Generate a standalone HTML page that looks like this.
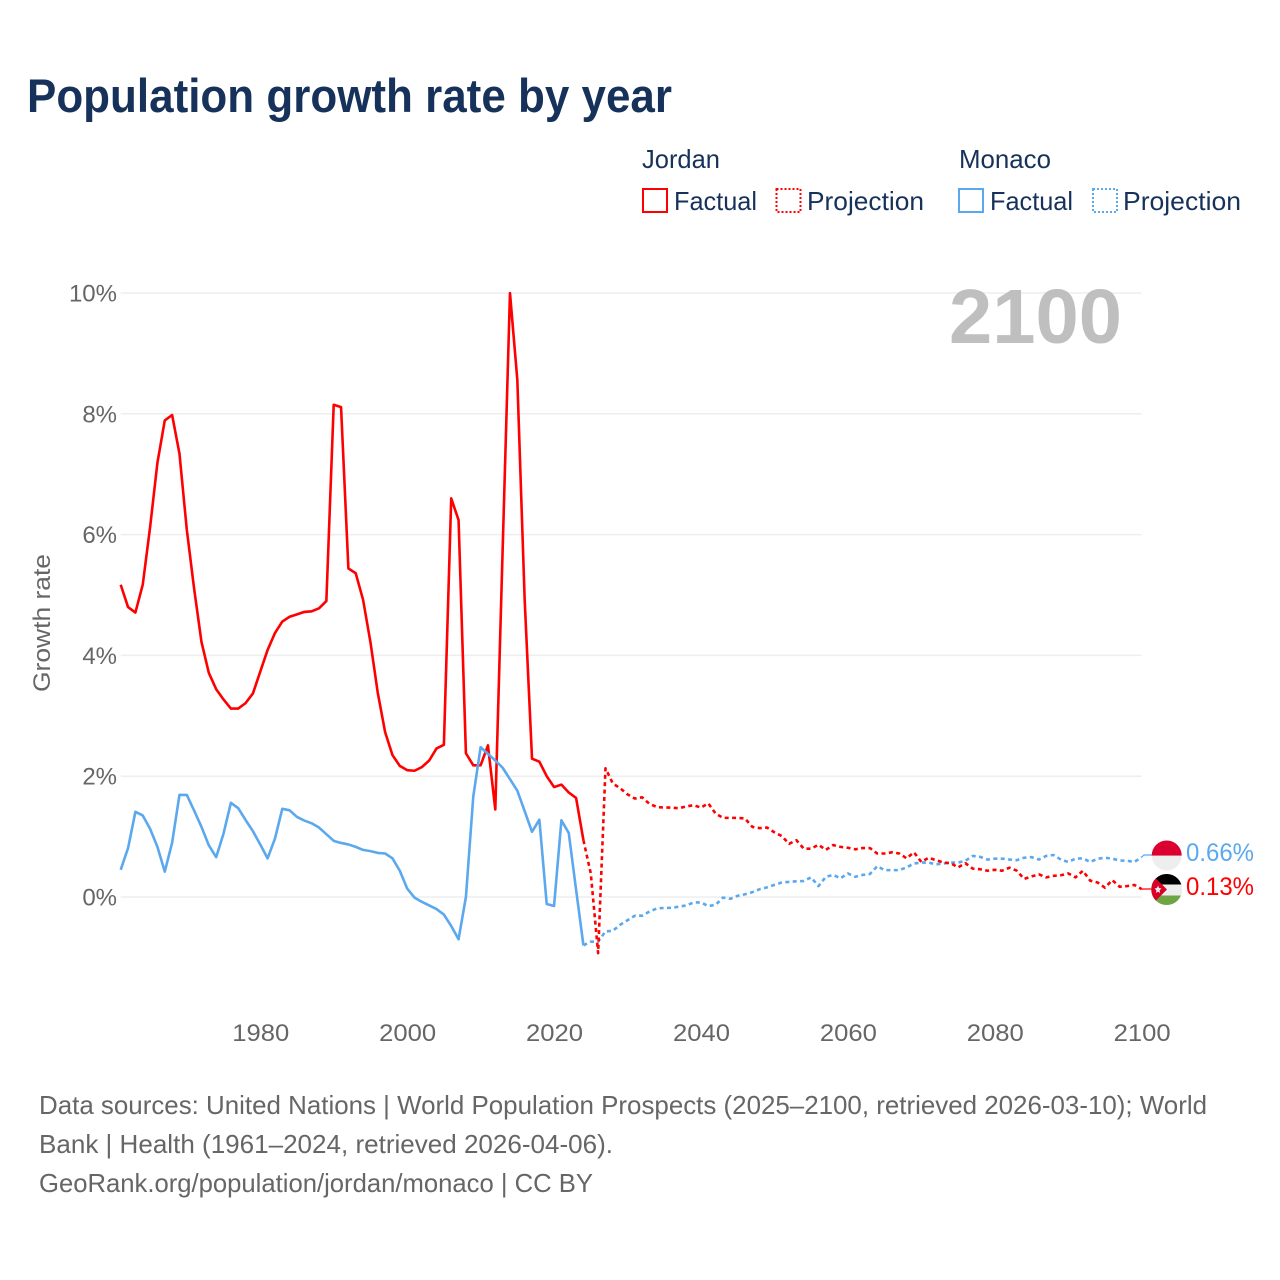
<!DOCTYPE html>
<html lang="en">
<head>
<meta charset="utf-8">
<title>Population growth rate by year</title>
<style>
html,body{margin:0;padding:0;background:#fff;}
svg{display:block;}
text{font-family:"Liberation Sans","DejaVu Sans",sans-serif;}
</style>
</head>
<body>
<svg id="chart" xmlns="http://www.w3.org/2000/svg" width="1280" height="1280" viewBox="0 0 1280 1280">
<rect width="1280" height="1280" fill="#ffffff"/>
<text x="27" y="112" font-size="47" font-weight="700" fill="#17325a" textLength="645" lengthAdjust="spacingAndGlyphs">Population growth rate by year</text>

<g font-size="26" fill="#17325a">
<text x="642" y="168" textLength="78" lengthAdjust="spacingAndGlyphs">Jordan</text>
<text x="959" y="168" textLength="92" lengthAdjust="spacingAndGlyphs">Monaco</text>
<rect x="643" y="189" width="24" height="23" fill="none" stroke="#ff0000" stroke-width="2"/>
<text x="674" y="210" textLength="83" lengthAdjust="spacingAndGlyphs">Factual</text>
<rect x="776.5" y="189" width="24" height="23" fill="none" stroke="#ff0000" stroke-width="2" stroke-dasharray="2 2"/>
<text x="807" y="210" textLength="117" lengthAdjust="spacingAndGlyphs">Projection</text>
<rect x="959" y="189" width="24" height="23" fill="none" stroke="#5ba8ee" stroke-width="2"/>
<text x="990" y="210" textLength="83" lengthAdjust="spacingAndGlyphs">Factual</text>
<rect x="1093" y="189" width="24" height="23" fill="none" stroke="#5ba8ee" stroke-width="2" stroke-dasharray="2 2"/>
<text x="1123" y="210" textLength="118" lengthAdjust="spacingAndGlyphs">Projection</text>
</g>

<g id="grid"></g>
<g id="yticks"></g>
<g id="xticks"></g>
<text transform="translate(50,692) rotate(-90)" font-size="24" fill="#666666" textLength="138" lengthAdjust="spacingAndGlyphs">Growth rate</text>
<text x="949" y="343" font-size="77" font-weight="700" fill="#bfbfbf" textLength="173" lengthAdjust="spacingAndGlyphs">2100</text>
<g id="series"></g>

<defs>
<clipPath id="flag-clip-monaco"><circle cx="1166.7" cy="855.5" r="15"/></clipPath>
<clipPath id="flag-clip-jordan"><circle cx="1166.7" cy="889.5" r="15.5"/></clipPath>
</defs>
<g id="flag-monaco" clip-path="url(#flag-clip-monaco)">
<rect x="1150" y="840" width="34" height="15.7" fill="#dc0030"/>
<rect x="1150" y="855.7" width="34" height="15" fill="#eeeeee"/>
</g>
<g id="flag-jordan" clip-path="url(#flag-clip-jordan)">
<rect x="1150" y="873" width="34" height="11.5" fill="#000000"/>
<rect x="1150" y="884.5" width="34" height="11" fill="#eeeeee"/>
<rect x="1150" y="895.5" width="34" height="10" fill="#6da544"/>
<polygon points="1151,873.5 1167,889.5 1151,905.5" fill="#d80027"/>
<polygon points="1158,885.5 1159,888 1161.5,888.5 1159.6,890.3 1160,893 1158,891.6 1156,893 1156.4,890.3 1154.5,888.5 1157,888" fill="#eeeeee"/>
</g>
<g id="end-labels"></g>

<g font-size="26" fill="#666666">
<text x="39" y="1114" textLength="1168" lengthAdjust="spacingAndGlyphs">Data sources: United Nations | World Population Prospects (2025–2100, retrieved 2026-03-10); World</text>
<text x="39" y="1153" textLength="574" lengthAdjust="spacingAndGlyphs">Bank | Health (1961–2024, retrieved 2026-04-06).</text>
<text x="39" y="1192" textLength="554" lengthAdjust="spacingAndGlyphs">GeoRank.org/population/jordan/monaco | CC BY</text>
</g>
</svg>
<script>
const yTicks = [0, 2, 4, 6, 8, 10];
const xTicks = [1980, 2000, 2020, 2040, 2060, 2080, 2100];
const factualStartYear = 1961;
const projectionStartYear = 2024;
const jordanFactual = [5.17,4.80,4.71,5.17,6.12,7.19,7.89,7.98,7.34,6.08,5.10,4.22,3.71,3.44,3.27,3.12,3.12,3.21,3.37,3.73,4.09,4.37,4.56,4.64,4.68,4.72,4.73,4.78,4.90,8.15,8.11,5.44,5.36,4.92,4.22,3.38,2.73,2.35,2.17,2.10,2.09,2.15,2.26,2.46,2.52,6.60,6.24,2.38,2.18,2.18,2.51,1.45,5.75,10.0,8.56,4.92,2.29,2.24,2.00,1.82,1.86,1.73,1.64,0.94];
const jordanProjection = [0.94,0.39,-0.93,2.13,1.88,1.80,1.70,1.63,1.65,1.54,1.49,1.48,1.48,1.47,1.50,1.52,1.48,1.55,1.38,1.31,1.31,1.31,1.30,1.16,1.14,1.15,1.07,1.01,0.88,0.94,0.80,0.80,0.865,0.78,0.86,0.83,0.815,0.79,0.81,0.81,0.72,0.72,0.74,0.72,0.64,0.74,0.58,0.65,0.61,0.57,0.56,0.49,0.56,0.47,0.46,0.435,0.45,0.435,0.485,0.435,0.30,0.34,0.375,0.325,0.35,0.36,0.39,0.325,0.435,0.27,0.24,0.155,0.28,0.17,0.18,0.20,0.13];
const monacoFactual = [0.45,0.81,1.41,1.35,1.13,0.83,0.42,0.90,1.69,1.69,1.43,1.16,0.855,0.66,1.05,1.56,1.47,1.275,1.09,0.87,0.64,0.965,1.46,1.435,1.325,1.265,1.22,1.15,1.04,0.93,0.895,0.87,0.83,0.78,0.76,0.73,0.72,0.64,0.435,0.14,-0.01,-0.08,-0.14,-0.20,-0.29,-0.48,-0.70,0.0,1.66,2.48,2.37,2.26,2.14,1.95,1.76,1.42,1.08,1.28,-0.115,-0.15,1.27,1.06,0.12,-0.80];
const monacoProjection = [-0.80,-0.74,-0.74,-0.57,-0.56,-0.46,-0.385,-0.31,-0.31,-0.24,-0.19,-0.18,-0.18,-0.16,-0.14,-0.09,-0.09,-0.15,-0.13,-0.01,-0.03,0.02,0.045,0.08,0.13,0.16,0.20,0.24,0.25,0.26,0.265,0.325,0.18,0.335,0.365,0.31,0.39,0.335,0.365,0.38,0.51,0.445,0.445,0.445,0.49,0.555,0.57,0.57,0.54,0.555,0.57,0.57,0.60,0.68,0.665,0.62,0.635,0.635,0.62,0.61,0.65,0.66,0.62,0.68,0.695,0.62,0.58,0.635,0.64,0.58,0.635,0.65,0.635,0.605,0.60,0.58,0.66];
const endValueJordan = 0.13;
const endValueMonaco = 0.66;

const SVG_NS = 'http://www.w3.org/2000/svg';
const RED = '#ff0000';
const BLUE = '#5ba8ee';
function xScale(year) { return 120.7 + (year - 1961) * 7.345; }
function yScale(value) { return 897 - value * 60.4; }
function make(tag, parent) {
  const el = document.createElementNS(SVG_NS, tag);
  parent.appendChild(el);
  return el;
}
function linePath(values, startYear) {
  return values.map(function (v, i) {
    return (i ? 'L' : 'M') + xScale(startYear + i).toFixed(2) + ' ' + yScale(v).toFixed(2);
  }).join('');
}

const gridGroup = document.getElementById('grid');
const yTickGroup = document.getElementById('yticks');
yTicks.forEach(function (t) {
  const line = make('line', gridGroup);
  
  
  line.setAttribute('x1', xScale(factualStartYear));
  line.setAttribute('x2', xScale(2100));
  line.setAttribute('y1', yScale(t));
  line.setAttribute('y2', yScale(t));
  line.setAttribute('stroke', '#eeeeee');
  line.setAttribute('stroke-width', '1.5');
  const label = make('text', yTickGroup);
  
  
  label.setAttribute('x', '117');
  label.setAttribute('y', yScale(t) + 8.5);
  label.setAttribute('text-anchor', 'end');
  label.setAttribute('font-size', '24');
  label.setAttribute('fill', '#666666');
  label.textContent = t + '%';
});

const xTickGroup = document.getElementById('xticks');
xTicks.forEach(function (t) {
  const label = make('text', xTickGroup);
  
  
  label.setAttribute('x', xScale(t) + 0.5);
  label.setAttribute('y', '1041');
  label.setAttribute('text-anchor', 'middle');
  label.setAttribute('font-size', '24');
  label.setAttribute('fill', '#666666');
  label.setAttribute('textLength', '57');
  label.setAttribute('lengthAdjust', 'spacingAndGlyphs');
  label.textContent = t;
});

const seriesGroup = document.getElementById('series');
function drawSeries(values, startYear, color, dashed) {
  const path = make('path', seriesGroup);
  path.setAttribute('d', linePath(values, startYear));
  path.setAttribute('fill', 'none');
  path.setAttribute('stroke', color);
  path.setAttribute('stroke-width', '2.6');
  path.setAttribute('stroke-linejoin', 'round');
  if (dashed) path.setAttribute('stroke-dasharray', '4 3.4');
  return path;
}
const jordanFactualLine = drawSeries(jordanFactual, factualStartYear, RED, false);


const monacoFactualLine = drawSeries(monacoFactual, factualStartYear, BLUE, false);


const monacoProjectionLine = drawSeries(monacoProjection, projectionStartYear, BLUE, true);


const jordanProjectionLine = drawSeries(jordanProjection, projectionStartYear, RED, true);



const labelGroup = document.getElementById('end-labels');
function drawEnd(value, labelY, color) {
  const connector = make('path', seriesGroup);
  connector.setAttribute('d', 'M' + xScale(2100) + ' ' + yScale(value) + 'L1144 ' + labelY + 'L1152 ' + labelY);
  connector.setAttribute('fill', 'none');
  connector.setAttribute('stroke', color);
  connector.setAttribute('stroke-width', '1.2');
  const label = make('text', labelGroup);
  label.setAttribute('x', '1186');
  label.setAttribute('y', labelY + 6);
  label.setAttribute('font-size', '25');
  label.setAttribute('fill', color);
  label.setAttribute('textLength', '68');
  label.setAttribute('lengthAdjust', 'spacingAndGlyphs');
  label.textContent = value.toFixed(2) + '%';
  return { connector: connector, label: label };
}
const jordanEnd = drawEnd(endValueJordan, 889, RED);




const monacoEnd = drawEnd(endValueMonaco, 855, BLUE);




</script>
</body>
</html>
